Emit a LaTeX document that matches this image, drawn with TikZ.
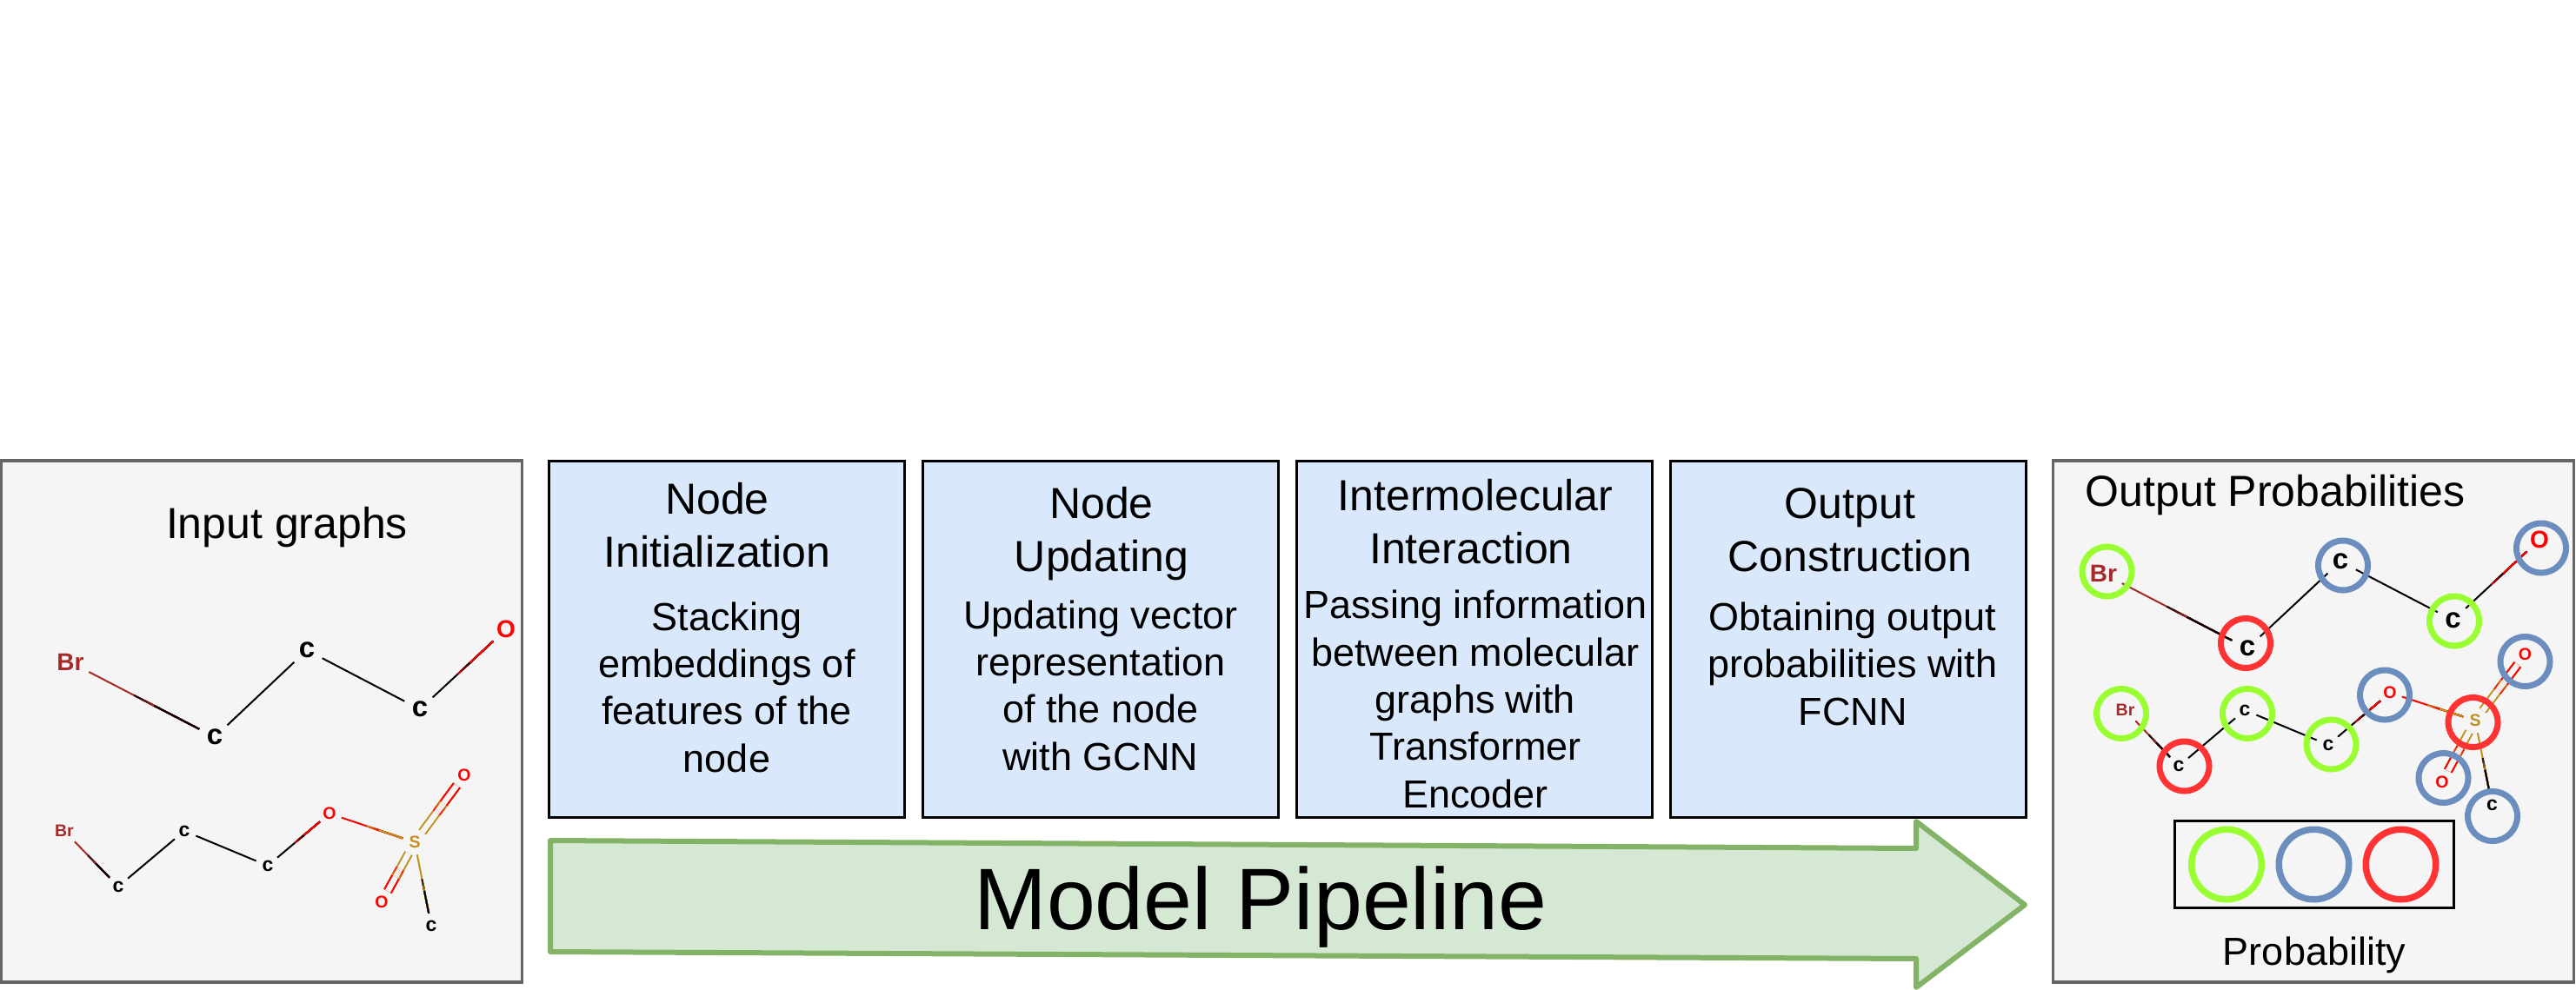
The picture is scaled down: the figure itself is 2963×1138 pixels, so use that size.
\documentclass[tikz,border=0pt]{standalone}
\usepackage{fontspec}
\setmainfont{Liberation Sans}
\usetikzlibrary{calc}
\definecolor{panelfill}{HTML}{F5F5F5}
\definecolor{panelline}{HTML}{666666}
\definecolor{boxfill}{HTML}{DAE8FC}
\definecolor{arrowfill}{HTML}{D5E8D4}
\definecolor{arrowline}{HTML}{82B366}
\definecolor{pgreen}{HTML}{99FF33}
\definecolor{pblue}{HTML}{6C8EBF}
\definecolor{pred}{HTML}{FF3333}
\definecolor{brcol}{HTML}{A52A2A}
\definecolor{scol}{HTML}{C09020}
\definecolor{ocol}{HTML}{FF0000}
\newcommand{\fs}[2]{\fontsize{#1}{#2}\selectfont}
% painter-style colour ramp along a bond: args style, a, b, colour a, colour b
\newcommand{\bondline}[5]{%
  \draw[#1,draw=#4] (#2) -- (#3);
  \foreach \tt/\mixx in {.44/85,.47/65,.50/45,.53/25,.56/0}{%
    \draw[#1,draw=#5!\mixx!#4] ($(#2)!\tt!(#3)$) -- (#3);
  }%
  \draw[#1,draw=#5] ($(#2)!.58!(#3)$) -- (#3);
}
\tikzset{
  panel/.style={draw=panelline,fill=panelfill,line width=3.5pt,minimum width=#1,minimum height=600pt,inner sep=0pt,outer sep=0pt},
  stepbox/.style={draw=black,fill=boxfill,line width=3pt,minimum width=409pt,minimum height=410pt,inner sep=0pt,outer sep=0pt},
  headtext/.style={font=\fs{50}{61},align=center,inner sep=0pt,anchor=base},
  bodytext/.style={font=\fs{45}{54.3},align=center,inner sep=0pt,anchor=base},
  plaintext/.style={font=\fs{50}{60},inner sep=0pt,anchor=base},
  atomA/.style={circle,inner sep=0pt,outer sep=0pt,minimum size=40pt,font=\bfseries\fs{33}{36}},
  atomAbr/.style={atomA,minimum size=48pt,font=\bfseries\fs{28}{34},text=brcol},
  atomAo/.style={atomA,font=\bfseries\fs{28}{34},text=ocol},
  atomB/.style={circle,inner sep=0pt,outer sep=0pt,minimum size=29pt,font=\bfseries\fs{23}{26}},
  atomBbr/.style={atomB,minimum size=34pt,font=\bfseries\fs{19.5}{24},text=brcol},
  atomBo/.style={atomB,font=\bfseries\fs{19.5}{24},text=ocol},
  atomBs/.style={atomB,font=\bfseries\fs{19.5}{24},text=scol},
  bond/.style={line width=2pt},
  dbond/.style={line width=2pt,double=panelfill,double distance=6.5pt},
  ring/.style={circle,draw=#1,line width=7pt,minimum size=57pt,inner sep=0pt,outer sep=0pt},
  bigring/.style={circle,draw=#1,line width=7.5pt,minimum size=80.5pt,inner sep=0pt,outer sep=0pt},
}
\begin{document}
\begin{tikzpicture}[x=1pt,y=-1pt]
\useasboundingbox (0,0) rectangle (2963,1138);
% panels
\node[panel=599pt,anchor=north west] (leftpanel) at (1.5,530) {};
\node[panel=599pt,anchor=north west] (rightpanel) at (2361.5,530) {};
% step boxes
\node[stepbox,anchor=north west] (box1) at (631.5,530.5) {};
\node[stepbox,anchor=north west] (box2) at (1061.5,530.5) {};
\node[stepbox,anchor=north west] (box3) at (1491.5,530.5) {};
\node[stepbox,anchor=north west] (box4) at (1921.5,530.5) {};
% box text
\node[headtext] (t1) at (825,652) {Node\\Initialization};
\node[bodytext] (b1) at (836,888) {Stacking\\embeddings of\\features of the\\node};
\node[headtext] (t2) at (1267,657) {Node\\Updating};
\node[bodytext] (b2) at (1266,886) {Updating vector\\representation\\of the node\\with GCNN};
\node[headtext] (t3) at (1695,648) {Intermolecular\hspace*{-4pt}\\Interaction\hspace*{6pt}};
\node[bodytext] (b3) at (1697,929) {Passing information\\between molecular\\graphs with\\Transformer\\Encoder};
\node[headtext] (t4) at (2128,657) {Output\\Construction};
\node[bodytext] (b4) at (2131,834) {Obtaining output\\probabilities with\\FCNN};
% arrow
\filldraw[draw=arrowline,fill=arrowfill,line width=6pt,line join=round]
  (633,967) -- (2204,976) -- (2204,945) -- (2329,1041) -- (2204,1136) -- (2204,1103) -- (633,1095) -- cycle;
\node[font=\fs{100.5}{110},inner sep=0pt,anchor=base] (pipe) at (1450,1069) {Model Pipeline};
% titles
\node[plaintext] (intitle) at (330,619) {Input graphs};
\node[plaintext] (outtitle) at (2617,582) {Output Probabilities};
\node[font=\fs{45}{50},inner sep=0pt,anchor=base] (problabel) at (2662,1110) {Probability};
% left molecule 1
\node[atomAbr] (a1) at (81,762) {Br};
\node[atomA] (a2) at (247,848) {c};
\node[atomA] (a3) at (353,748) {c};
\node[atomA] (a4) at (483,816) {c};
\node[atomAo] (a5) at (582,724) {O};
\bondline{bond}{a1}{a2}{brcol}{black}
\draw[bond] (a2) -- (a3);
\draw[bond] (a3) -- (a4);
\bondline{bond}{a4}{a5}{black}{ocol}
% left molecule 2
\node[atomBbr] (c1) at (74,956) {Br};
\node[atomB] (c2) at (136,1020) {c};
\node[atomB] (c3) at (212,956) {c};
\node[atomB] (c4) at (308,996) {c};
\node[atomBo] (c5) at (379,936) {O};
\node[atomBs] (c6) at (477,969) {S};
\node[atomBo] (c7) at (534,892) {O};
\node[atomBo] (c8) at (439,1038) {O};
\node[atomB] (c9) at (496,1065) {c};
\bondline{bond}{c1}{c2}{brcol}{black}
\draw[bond] (c2) -- (c3);
\draw[bond] (c3) -- (c4);
\bondline{bond}{c4}{c5}{black}{ocol}
\bondline{bond}{c5}{c6}{ocol}{scol}
\bondline{dbond}{c6}{c7}{scol}{ocol}
\bondline{dbond}{c6}{c8}{scol}{ocol}
\bondline{bond}{c6}{c9}{scol}{black}
% right molecule 1
\node[atomAbr] (d1) at (2419.5,660) {Br};
\node[atomA] (d2) at (2585,746) {c};
\node[atomA] (d3) at (2692,646) {c};
\node[atomA] (d4) at (2821.5,713.5) {c};
\node[atomAo] (d5) at (2921,621) {O};
\bondline{bond}{d1}{d2}{brcol}{black}
\draw[bond] (d2) -- (d3);
\draw[bond] (d3) -- (d4);
\bondline{bond}{d4}{d5}{black}{ocol}
% right molecule 2
\node[atomBbr] (e1) at (2444.5,817) {Br};
\node[atomB] (e2) at (2506,881.5) {c};
\node[atomB] (e3) at (2582,817) {c};
\node[atomB] (e4) at (2678,857) {c};
\node[atomBo] (e5) at (2749,797) {O};
\node[atomBs] (e6) at (2847,829) {S};
\node[atomBo] (e7) at (2904.5,753) {O};
\node[atomBo] (e8) at (2809,899.5) {O};
\node[atomB] (e9) at (2866.5,926.5) {c};
\bondline{bond}{e1}{e2}{brcol}{black}
\draw[bond] (e2) -- (e3);
\draw[bond] (e3) -- (e4);
\bondline{bond}{e4}{e5}{black}{ocol}
\bondline{bond}{e5}{e6}{ocol}{scol}
\bondline{dbond}{e6}{e7}{scol}{ocol}
\bondline{dbond}{e6}{e8}{scol}{ocol}
\bondline{bond}{e6}{e9}{scol}{black}
% rings
\node[ring=pgreen] (r1) at (2423.5,657.5) {};
\node[ring=pred] (r2) at (2583,740) {};
\node[ring=pblue] (r3) at (2695,650.5) {};
\node[ring=pgreen] (r4) at (2823,714.5) {};
\node[ring=pblue] (r5) at (2923,630.5) {};
\node[ring=pgreen] (r6) at (2440,821) {};
\node[ring=pred] (r7) at (2512.5,881.5) {};
\node[ring=pgreen] (r8) at (2585,821) {};
\node[ring=pgreen] (r9) at (2681.5,856.5) {};
\node[ring=pblue] (r10) at (2743,799.5) {};
\node[ring=pred] (r11) at (2844.5,831) {};
\node[ring=pblue] (r12) at (2904.5,761) {};
\node[ring=pblue] (r13) at (2810.5,895) {};
\node[ring=pblue] (r14) at (2867,939) {};
% legend
\node[draw=black,line width=3pt,minimum width=321pt,minimum height=100pt,inner sep=0pt,outer sep=0pt,anchor=north west] (legend) at (2501,944) {};
\node[bigring=pgreen] (l1) at (2561,994.5) {};
\node[bigring=pblue] (l2) at (2661.5,994.5) {};
\node[bigring=pred] (l3) at (2761.5,994.5) {};
\end{tikzpicture}
\end{document}
